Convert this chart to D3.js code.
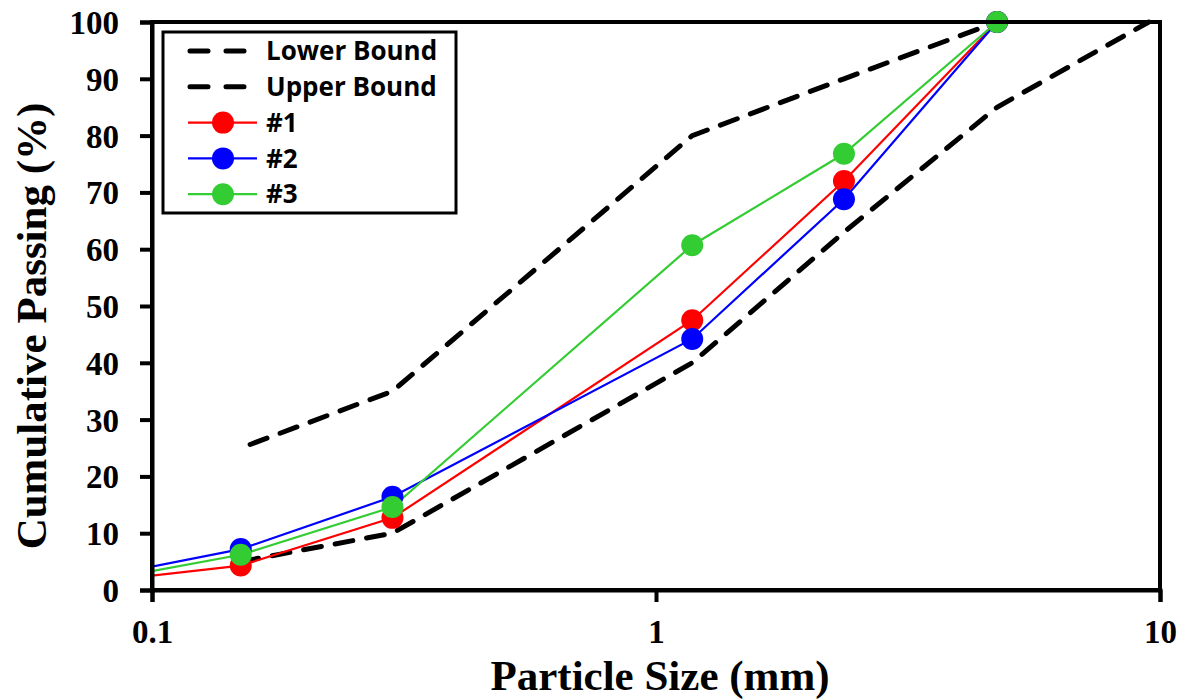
<!DOCTYPE html>
<html><head><meta charset="utf-8">
<script src="https://cdn.jsdelivr.net/npm/d3@7"></script>
<style>body{margin:0;background:#fff}</style>
</head><body>
<svg id="c" width="1185" height="700"></svg>
<script>
const sizes = [0.075, 0.15, 0.3, 1.18, 2.36, 4.75, 9.5];
const lowerBound = [null, 5, 10, 40, 63, 85, 100];
const upperBound = [null, 25, 35, 80, 90, 100, null];
const mix1 = [1.3, 4.3, 12.7, 47.5, 72.0, 100, null];
const mix2 = [1.9, 7.2, 16.4, 44.2, 68.8, 100, null];
const mix3 = [1.3, 6.2, 14.6, 60.7, 76.8, 100, null];
const xTicks = [0.1, 1, 10];
const yTicks = [0,10,20,30,40,50,60,70,80,90,100];

const svg = d3.select('#c');
const L=152, R=1160, T=22, B=590;
const x = d3.scaleLog().domain([0.1,10]).range([L,R]);
const y = d3.scaleLinear().domain([0,100]).range([B,T]);

svg.append('defs').append('clipPath').attr('id','clip')
  .append('rect').attr('x',L).attr('y',T-15).attr('width',R-L).attr('height',B-T+15);

const serif = "'Liberation Serif','Times New Roman',serif";
const sans = "'Open Sans','Liberation Sans',sans-serif";

function seriesPts(vals){ return sizes.map((s,i)=>[s,vals[i]]).filter(d=>d[1]!=null); }
const line = d3.line().x(d=>x(d[0])).y(d=>y(d[1]));

const g = svg.append('g').attr('clip-path','url(#clip)');
[lowerBound, upperBound].forEach((v,i)=>{
  g.append('path').attr('d', line(seriesPts(v))).attr('fill','none')
   .attr('stroke','#000').attr('stroke-width',5).attr('stroke-dasharray','18,14')
   .attr('stroke-dashoffset', i===1 ? 22 : 0).attr('stroke-linecap','round');
});
const series = [[mix1,'#ff0000'],[mix2,'#0000ff'],[mix3,'#33cc33']];
series.forEach(([v,c])=>{
  g.append('path').attr('d', line(seriesPts(v))).attr('fill','none').attr('stroke',c).attr('stroke-width',2.2);
});
series.forEach(([v,c])=>{
  g.selectAll(null).data(seriesPts(v).filter(d=>d[0]>=0.1)).enter().append('circle')
   .attr('cx',d=>x(d[0])).attr('cy',d=>y(d[1])).attr('r',11).attr('fill',c);
});

// frame
svg.append('rect').attr('x',L).attr('y',T).attr('width',R-L).attr('height',B-T)
  .attr('fill','none').attr('stroke','#000').attr('stroke-width',4);

const xAxis = svg.append('g').attr('transform',`translate(0,${B})`)
  .call(d3.axisBottom(x).tickValues(xTicks).tickFormat(d=>String(d)).tickSize(12).tickPadding(18));
const yAxis = svg.append('g').attr('transform',`translate(${L},0)`)
  .call(d3.axisLeft(y).tickValues(yTicks).tickSize(12).tickPadding(21));
[xAxis,yAxis].forEach(a=>{
  a.select('.domain').attr('stroke','#000').attr('stroke-width',4);
  a.selectAll('.tick line').attr('stroke','#000').attr('stroke-width',4);
  a.selectAll('.tick text').attr('fill','#000').style('font-family',serif)
    .style('font-weight','bold').style('font-size','33px');
});
yAxis.selectAll('.tick text').attr('dy','0.35em');

svg.append('text').attr('x',660).attr('y',690).attr('text-anchor','middle')
  .style('font-family',serif).style('font-weight','bold').style('font-size','43px').text('Particle Size (mm)');
svg.append('text').attr('transform','translate(46,326) rotate(-90)').attr('text-anchor','middle')
  .style('font-family',serif).style('font-weight','bold').style('font-size','43px').text('Cumulative Passing (%)');

// legend
const lg = svg.append('g');
lg.append('rect').attr('x',163).attr('y',32).attr('width',293).attr('height',181)
  .attr('fill','#fff').attr('stroke','#000').attr('stroke-width',3);
const legendItems = [
  {label:'Lower Bound', dash:true},
  {label:'Upper Bound', dash:true},
  {label:'#1', color:'#ff0000'},
  {label:'#2', color:'#0000ff'},
  {label:'#3', color:'#33cc33'}
];
legendItems.forEach((it,i)=>{
  const yy = 51 + i*35.8;
  if(it.dash){
    lg.append('line').attr('x1',190).attr('x2',257).attr('y1',yy).attr('y2',yy)
      .attr('stroke','#000').attr('stroke-width',5).attr('stroke-dasharray','18,18').attr('stroke-linecap','round');
  } else {
    lg.append('line').attr('x1',188).attr('x2',257).attr('y1',yy).attr('y2',yy).attr('stroke',it.color).attr('stroke-width',2.2);
    lg.append('circle').attr('cx',223).attr('cy',yy).attr('r',11).attr('fill',it.color);
  }
  lg.append('text').attr('x',266).attr('y',yy).attr('dy','0.35em')
    .style('font-family',sans).style('font-weight','bold').style('font-size','26px').text(it.label);
});
</script>
</body></html>
